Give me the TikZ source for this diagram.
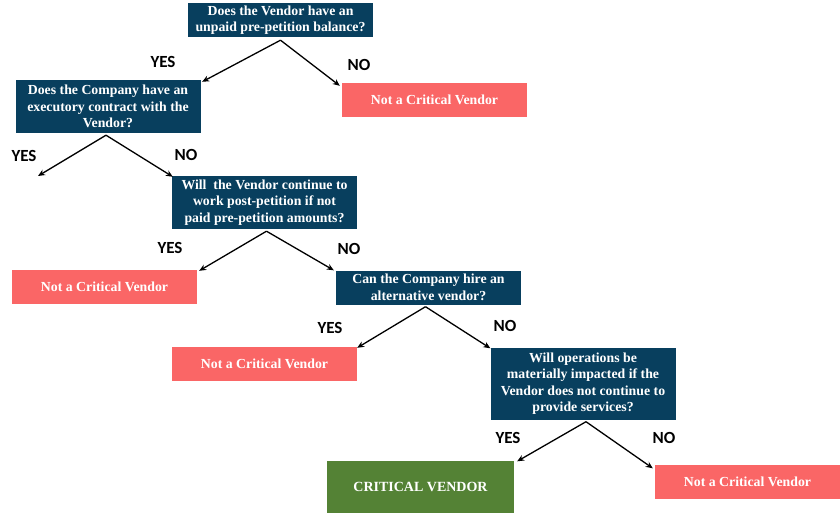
\documentclass[tikz,border=0pt]{standalone}
\usepackage{fontspec}
\setmainfont{Liberation Serif}
\newfontfamily\lblfont{Carlito}
\usetikzlibrary{arrows.meta}
\definecolor{qblue}{RGB}{8,63,94}
\definecolor{salmon}{RGB}{250,102,102}
\definecolor{cgreen}{RGB}{84,130,53}
\tikzset{
  qbox/.style={fill=qblue, text=white, font=\fontsize{13.8}{16.4}\selectfont\bfseries, align=center, inner sep=0pt, minimum width=185pt, execute at begin node={\rule{0pt}{14.5pt}}},
  nbox/.style={fill=salmon, text=white, font=\fontsize{13.8}{16.4}\selectfont\bfseries, align=center, inner sep=0pt, minimum width=185pt, minimum height=34pt},
  gbox/.style={fill=cgreen, text=white, font=\fontsize{14}{16.4}\selectfont\bfseries, align=center, inner sep=0pt, minimum width=187pt, minimum height=53pt},
  arr/.style={draw=black, line width=1.3pt, -{Stealth[length=7pt,width=6pt]}},
  lbl/.style={font=\fontsize{17}{17}\selectfont\lblfont\bfseries, text=black, inner sep=0pt}
}
\begin{document}
\begin{tikzpicture}[x=1pt,y=-1pt]
\useasboundingbox (0,0) rectangle (840,513);
\fill[white] (0,0) rectangle (840,513);
% question boxes
\node[qbox, minimum height=34pt] (q1) at (280.5,20) {Does the Vendor have an\\unpaid pre-petition balance?};
\node[qbox, minimum height=53pt] (q2) at (108,106.5) {Does the Company have an\\executory contract with the\\Vendor?};
\node[qbox, minimum height=53pt] (q3) at (264.5,202.5) {Will\ \ the Vendor continue to\\work post-petition if not\\paid pre-petition amounts?};
\node[qbox, minimum height=34pt] (q4) at (428.5,287.5) {Can the Company hire an\\alternative vendor?};
\node[qbox, minimum height=72pt] (q5) at (583,383.5) {Will operations be\\materially impacted if the\\Vendor does not continue to\\provide services?};
% result boxes
\node[nbox] (n1) at (434.5,100) {Not a Critical Vendor};
\node[nbox] (n2) at (104.5,287) {Not a Critical Vendor};
\node[nbox] (n3) at (264.5,364) {Not a Critical Vendor};
\node[nbox] (n4) at (747.5,481.5) {Not a Critical Vendor};
\node[gbox] (cv) at (420.5,487) {CRITICAL VENDOR};
% free end
\coordinate (q2yes) at (38,176);
% connectors
\draw[arr] ([yshift=-3pt]q1.south) -- ([xshift=1.5pt,yshift=-2pt]q2.north east);
\draw[arr] ([yshift=-3pt]q1.south) -- ([xshift=-2pt,yshift=-3pt]n1.north west);
\draw[arr] ([xshift=-2pt,yshift=-2pt]q2.south) -- (q2yes);
\draw[arr] ([xshift=-2pt,yshift=-2pt]q2.south) -- ([xshift=1pt,yshift=-1pt]q3.north west);
\draw[arr] ([xshift=2pt,yshift=-2pt]q3.south) -- ([xshift=2pt,yshift=-1pt]n2.north east);
\draw[arr] ([xshift=2pt,yshift=-2pt]q3.south) -- ([xshift=-2pt,yshift=0pt]q4.north west);
\draw[arr] ([xshift=-3pt,yshift=-2pt]q4.south) -- ([xshift=0pt,yshift=-1pt]n3.north east);
\draw[arr] ([xshift=-3pt,yshift=-2pt]q4.south) -- ([xshift=0pt,yshift=-1pt]q5.north west);
\draw[arr] ([xshift=3pt,yshift=-2pt]q5.south) -- ([xshift=3pt,yshift=-1pt]cv.north east);
\draw[arr] ([xshift=3pt,yshift=-2pt]q5.south) -- ([xshift=-2pt,yshift=-4pt]n4.north west);
% labels
\node[lbl] (l1) at (163,62) {YES};
\node[lbl] (l2) at (359,65) {NO};
\node[lbl] (l3) at (24,156) {YES};
\node[lbl] (l4) at (186,155) {NO};
\node[lbl] (l5) at (170,248) {YES};
\node[lbl] (l6) at (349,249) {NO};
\node[lbl] (l7) at (330,328) {YES};
\node[lbl] (l8) at (505,326) {NO};
\node[lbl] (l9) at (508,438) {YES};
\node[lbl] (l10) at (664,438) {NO};
\end{tikzpicture}
\end{document}
